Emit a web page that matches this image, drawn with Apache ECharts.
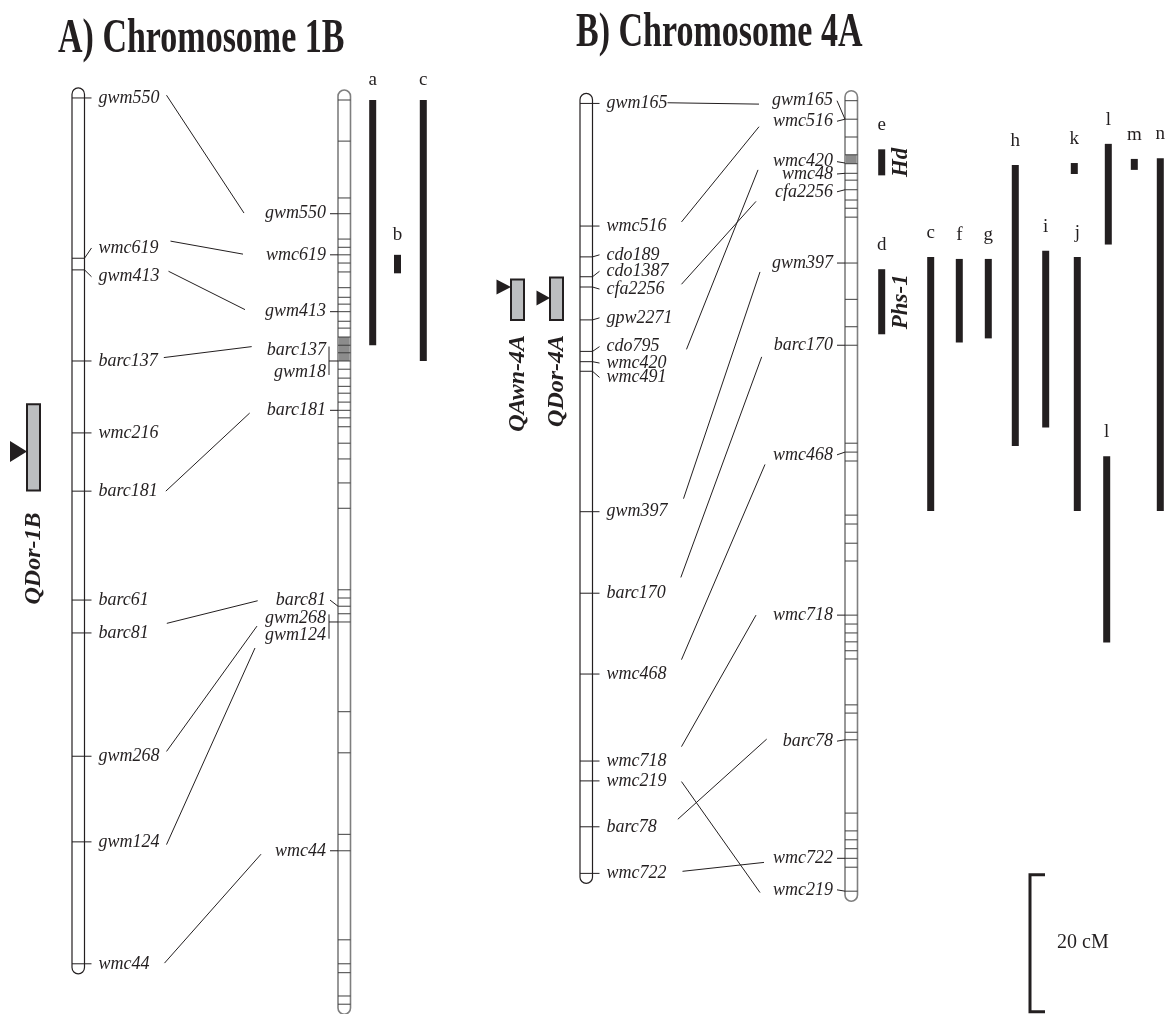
<!DOCTYPE html>
<html>
<head>
<meta charset="utf-8">
<script src="https://cdn.jsdelivr.net/npm/echarts@6.0.0/dist/echarts.min.js"></script>
<style>
  html, body { margin: 0; padding: 0; background: #fff; }
  #chart { width: 1171px; height: 1014px; }
</style>
</head>
<body>
<div id="chart"></div>
<script>
// ---------- data (all positions in cM) ----------
// Chromosome 1B, mapping population
const map1BNames = ['gwm550', 'wmc619', 'gwm413', 'barc137', 'wmc216', 'barc181', 'barc61', 'barc81', 'gwm268', 'gwm124', 'wmc44']
const map1BPos = [0.0, 23.4, 25.1, 38.4, 48.9, 57.4, 73.3, 78.1, 96.1, 108.6, 126.4]
const map1BLabelPos = [0.0, 21.9, 26.1, 38.4, 48.9, 57.4, 73.3, 78.1, 96.1, 108.6, 126.4]

// Chromosome 1B, consensus map
const cons1BTicks = [0.3, 6.3, 14.6, 16.9, 20.6, 21.8, 22.9, 24.1, 25.4, 27.7, 29.1, 30.1, 31.2, 32.6, 33.6,
  34.9, 36.1, 37.2, 38.4, 39.6, 40.9, 42.1, 43.1, 44.4, 45.6, 46.7, 48.0, 50.4, 52.7, 56.2, 59.9,
  71.8, 73.0, 74.2, 75.3, 76.5, 89.6, 95.6, 107.5, 109.9, 122.9, 126.4, 127.7, 131.1, 132.3]
const cons1BBand = [34.9, 38.4]
const cons1BNames = ['gwm550', 'wmc619', 'gwm413', 'barc137', 'gwm18', 'barc181', 'barc81', 'gwm268', 'gwm124', 'wmc44']
const cons1BPos = [16.9, 22.9, 31.2, 38.4, 38.4, 45.6, 74.2, 76.5, 76.5, 109.9]
const cons1BLabelPos = [16.9, 22.9, 31.2, 36.8, 40.0, 45.6, 73.3, 75.9, 78.5, 109.9]
const cons1BGroups = [['barc137', 'gwm18'], ['gwm268', 'gwm124']]

// links between the two 1B maps
const links1BNames = ['gwm550', 'wmc619', 'gwm413', 'barc137', 'barc181', 'barc81', 'gwm268', 'gwm124', 'wmc44']
const links1BFrom = [-0.4, 20.9, 25.3, 37.9, 57.4, 76.7, 95.4, 109.0, 126.3]
const links1BTo = [16.8, 22.8, 30.9, 36.3, 46.0, 73.4, 77.1, 80.3, 110.4]

// QTL intervals reported on 1B
const bars1BNames = ['a', 'b', 'c']
const bars1BTop = [0.3, 22.9, 0.3]
const bars1BBottom = [36.1, 25.6, 38.4]

// Chromosome 4A, mapping population
const map4ANames = ['gwm165', 'wmc516', 'cdo189', 'cdo1387', 'cfa2256', 'gpw2271', 'cdo795', 'wmc420', 'wmc491',
  'gwm397', 'barc170', 'wmc468', 'wmc718', 'wmc219', 'barc78', 'wmc722']
const map4APos = [0.8, 18.7, 23.2, 26.1, 27.6, 32.4, 37.0, 38.5, 39.9, 60.4, 72.3, 84.1, 96.8, 99.7, 106.4, 113.2]
const map4ALabelPos = [0.8, 18.7, 22.9, 25.3, 27.9, 32.1, 36.3, 38.7, 40.8, 60.4, 72.3, 84.1, 96.8, 99.7, 106.4, 113.2]

// Chromosome 4A, consensus map
const cons4ATicks = [0.4, 3.1, 5.7, 8.3, 9.6, 11.0, 12.0, 13.4, 14.9, 16.1, 17.4, 24.1, 29.4, 33.4, 36.1,
  50.4, 51.7, 53.0, 60.9, 62.2, 65.0, 67.6, 75.5, 76.8, 78.1, 79.4, 80.7, 81.9, 88.6, 89.8, 92.6, 93.7,
  104.4, 107.0, 108.3, 109.6, 111.0, 112.3, 115.8]
const cons4ABand = [8.3, 9.6]
const cons4ANames = ['gwm165', 'wmc516', 'wmc420', 'wmc48', 'cfa2256', 'gwm397', 'barc170', 'wmc468', 'wmc718', 'barc78', 'wmc722', 'wmc219']
const cons4APos = [3.1, 3.1, 9.5, 11.0, 13.4, 24.1, 36.1, 51.7, 75.5, 93.7, 111.0, 115.8]
const cons4ALabelPos = [0.4, 3.4, 9.3, 11.1, 13.7, 24.1, 36.1, 52.1, 75.5, 93.9, 111.0, 115.6]

// links between the two 4A maps
const links4ANames = ['gwm165', 'wmc516', 'cfa2256', 'wmc420', 'gwm397', 'barc170', 'wmc468', 'wmc718', 'barc78', 'wmc219', 'wmc722']
const links4AFrom = [0.7, 18.1, 27.2, 36.7, 58.5, 70.0, 82.0, 94.7, 105.3, 99.8, 112.9]
const links4ATo = [0.9, 4.2, 15.1, 10.5, 25.4, 37.8, 53.5, 75.5, 93.6, 116.0, 111.6]

// QTL intervals / genes reported on 4A
const bars4ANames = ['e', 'd', 'c', 'f', 'g', 'h', 'i', 'j', 'k', 'l', 'l', 'm', 'n']
const bars4ATop = [7.5, 25.0, 23.2, 23.5, 23.5, 9.8, 22.3, 23.2, 9.5, 6.7, 52.3, 8.9, 8.8]
const bars4ABottom = [11.3, 34.5, 60.3, 35.7, 35.1, 50.8, 48.1, 60.3, 11.1, 21.4, 79.5, 10.5, 60.3]
const bars4AGenes = ['Hd', 'Phs-1', '', '', '', '', '', '', '', '', '', '', '']

// QTL found in this study
const qtlNames = ['QDor-1B', 'QAwn-4A', 'QDor-4A']
const qtlTop = [44.7, 26.5, 26.2]
const qtlBottom = [57.3, 32.4, 32.4]
const qtlPeak = [51.6, 27.6, 29.2]

const titles = ['A) Chromosome 1B', 'B) Chromosome 4A']
const scaleBarLength = 20
const scaleBarLabel = '20 cM'

// ---------- layout (pixels) ----------
const layout = {
  chromW: 12.5,
  endPad: 10,
  mapTickExt: 7,
  mapLabelGap: 14,
  consTickExt: 8,
  consLabelGap: 12,
  bracketExt: 9,
  chromX: [72, 338, 580, 845],
  // space left between a label and its link line
  linkGapL1B: [7, 12, 9, 6, 8, 18, 7, 7, 15],
  linkGapR1B: [21, 23, 20, 15, 17, 18, 8, 10, 14],
  linkGapL4A: [0, 15, 17, 20, 16, 15, 15, 15, 21, 15, 16],
  linkGapR4A: [13, 14, 19, 15, 12, 12, 8, 17, 16, 13, 9],
  bars1BX: [372.7, 397.5, 423.3],
  bars4AX: [881.7, 881.7, 930.7, 959.3, 988.3, 1015.3, 1045.7, 1077.3, 1074.3, 1108.3, 1106.7, 1134.3, 1160.3],
  barW: 7,
  qtlX: [27, 511, 550],
  qtlW: 13,
  qtlArrow: [[17, 10.5], [14.5, 7.5], [13.5, 7.5]],
  qtlLabelGap: [22, 15, 15],
  scaleX: 1030,
  scaleTop: 113.4,
  titleX: [58, 576],
  titleY: [40, 34]
}

const INK = '#231f20'
const FONT_MARK = 'italic 18px "Liberation Serif"'
const W = layout.chromW

const measure = (function () {
  const ctx = document.createElement('canvas').getContext('2d')
  return function (s, f) { ctx.font = f; return ctx.measureText(s).width }
})()

const chroms = [
  { kind: 'map', names: map1BNames, pos: map1BPos, labelPos: map1BLabelPos, ticks: map1BPos },
  { kind: 'cons', names: cons1BNames, pos: cons1BPos, labelPos: cons1BLabelPos, ticks: cons1BTicks, band: cons1BBand, groups: cons1BGroups },
  { kind: 'map', names: map4ANames, pos: map4APos, labelPos: map4ALabelPos, ticks: map4APos },
  { kind: 'cons', names: cons4ANames, pos: cons4APos, labelPos: cons4ALabelPos, ticks: cons4ATicks, band: cons4ABand, groups: [] }
]
chroms.forEach((c, i) => { c.x = layout.chromX[i] })

const linkSets = [
  { left: 0, right: 1, names: links1BNames, from: links1BFrom, to: links1BTo, gapL: layout.linkGapL1B, gapR: layout.linkGapR1B },
  { left: 2, right: 3, names: links4ANames, from: links4AFrom, to: links4ATo, gapL: layout.linkGapL4A, gapR: layout.linkGapR4A }
]

const barSets = [
  { names: bars1BNames, top: bars1BTop, bottom: bars1BBottom, x: layout.bars1BX, genes: [], labelGap: 20 },
  { names: bars4ANames, top: bars4ATop, bottom: bars4ABottom, x: layout.bars4AX, genes: bars4AGenes, labelGap: 24 }
]

function yPix(api, v) { return api.coord([0, v])[1] }

const chart = echarts.init(document.getElementById('chart'))

const option = {
  animation: false,
  backgroundColor: '#fff',
  grid: { left: 0, right: 0, top: 0, bottom: 0 },
  xAxis: { type: 'value', min: 0, max: 1171, show: false },
  yAxis: { type: 'value', min: -14.3, max: -14.3 + 1014 / 6.85, inverse: true, show: false },
  graphic: titles.map((t, i) => ({
    type: 'text', x: layout.titleX[i], y: layout.titleY[i], scaleY: 1.4,
    style: { text: t, font: 'bold 34px "Liberation Serif"', fill: INK, verticalAlign: 'middle' }
  })),
  series: [
    // links between maps
    {
      type: 'custom', z: 1,
      data: linkSets.flatMap((s, si) => s.names.map((n, j) => [s.from[j], s.to[j], si, j])),
      renderItem(params, api) {
        const s = linkSets[api.value(2)]
        const j = api.value(3)
        const name = s.names[j]
        const cl = chroms[s.left], cr = chroms[s.right]
        const x1 = cl.x + W + layout.mapLabelGap + measure(name, FONT_MARK) + s.gapL[j]
        const x2 = cr.x - layout.consLabelGap - measure(name, FONT_MARK) - s.gapR[j]
        return {
          type: 'line',
          shape: { x1: x1, y1: yPix(api, api.value(0)), x2: x2, y2: yPix(api, api.value(1)) },
          style: { stroke: INK, lineWidth: 1 }
        }
      }
    },
    // chromosome outlines
    {
      type: 'custom', z: 2,
      data: chroms.map(c => [Math.min(...c.ticks), Math.max(...c.ticks)]),
      renderItem(params, api) {
        const c = chroms[params.dataIndex]
        const y0 = yPix(api, api.value(0)) - layout.endPad
        const y1 = yPix(api, api.value(1)) + layout.endPad
        return {
          type: 'rect',
          shape: { x: c.x, y: y0, width: W, height: y1 - y0, r: W / 2 },
          style: { fill: '#fff', stroke: c.kind === 'map' ? INK : '#7f7f7f', lineWidth: c.kind === 'map' ? 1.2 : 1.6 }
        }
      }
    },
    // shaded bands
    {
      type: 'custom', z: 3,
      data: chroms.map((c, i) => c.band ? [c.band[0], c.band[1], i] : null).filter(Boolean),
      renderItem(params, api) {
        const c = chroms[api.value(2)]
        const y0 = yPix(api, api.value(0)), y1 = yPix(api, api.value(1))
        return { type: 'rect', shape: { x: c.x + 0.8, y: y0, width: W - 1.6, height: y1 - y0 }, style: { fill: '#8c8c8c' } }
      }
    },
    // ticks across chromosomes
    {
      type: 'custom', z: 4,
      data: chroms.flatMap((c, i) => c.ticks.map(t => [i, t])),
      renderItem(params, api) {
        const c = chroms[api.value(0)]
        const y = yPix(api, api.value(1))
        return {
          type: 'line',
          shape: { x1: c.x, y1: y, x2: c.x + W, y2: y },
          style: { stroke: c.kind === 'map' ? INK : '#3f3f3f', lineWidth: 1 }
        }
      }
    },
    // marker labels
    {
      type: 'custom', z: 5,
      data: chroms.flatMap((c, i) => c.names.map((n, j) => [i, c.pos[j], c.labelPos[j], j])),
      renderItem(params, api) {
        const c = chroms[api.value(0)]
        const name = c.names[api.value(3)]
        const ty = yPix(api, api.value(1)), ly = yPix(api, api.value(2))
        const kids = []
        if (c.kind === 'map') {
          const xr = c.x + W
          kids.push({ type: 'polyline', shape: { points: [[xr, ty], [xr + layout.mapTickExt, ly]] }, style: { stroke: INK, lineWidth: 1, fill: 'none' } })
          kids.push({ type: 'text', style: { text: name, x: xr + layout.mapLabelGap, y: ly, font: FONT_MARK, fill: INK, align: 'left', verticalAlign: 'middle' } })
        } else {
          kids.push({ type: 'text', style: { text: name, x: c.x - layout.consLabelGap, y: ly, font: FONT_MARK, fill: INK, align: 'right', verticalAlign: 'middle' } })
          const grp = c.groups.find(g => g.indexOf(name) >= 0)
          if (!grp) {
            kids.push({ type: 'polyline', shape: { points: [[c.x - layout.consTickExt, ly], [c.x, ty]] }, style: { stroke: INK, lineWidth: 1, fill: 'none' } })
          } else if (grp[0] === name) {
            const ys = grp.map(n => yPix(api, c.labelPos[c.names.indexOf(n)]))
            const bx = c.x - layout.bracketExt
            kids.push({ type: 'line', shape: { x1: bx, y1: Math.min(...ys) - 3.5, x2: bx, y2: Math.max(...ys) + 3 }, style: { stroke: INK, lineWidth: 1 } })
            kids.push({ type: 'line', shape: { x1: bx, y1: ty, x2: c.x, y2: ty }, style: { stroke: INK, lineWidth: 1 } })
          }
        }
        return { type: 'group', children: kids }
      }
    },
    // reported intervals
    {
      type: 'custom', z: 5,
      data: barSets.flatMap((s, si) => s.names.map((n, j) => [s.top[j], s.bottom[j], si, j])),
      renderItem(params, api) {
        const s = barSets[api.value(2)]
        const j = api.value(3)
        const x = s.x[j]
        const y0 = yPix(api, api.value(0)), y1 = yPix(api, api.value(1))
        const kids = [
          { type: 'rect', shape: { x: x - layout.barW / 2, y: y0, width: layout.barW, height: y1 - y0 }, style: { fill: INK } },
          { type: 'text', style: { text: s.names[j], x: x, y: y0 - s.labelGap, font: '19px "Liberation Serif"', fill: INK, align: 'center', verticalAlign: 'middle' } }
        ]
        if (s.genes[j]) {
          kids.push({
            type: 'text', x: x + 19, y: (y0 + y1) / 2, rotation: Math.PI / 2,
            style: { text: s.genes[j], font: 'bold italic 23px "Liberation Serif"', fill: INK, align: 'center', verticalAlign: 'middle' }
          })
        }
        return { type: 'group', children: kids }
      }
    },
    // QTL boxes
    {
      type: 'custom', z: 5,
      data: qtlNames.map((n, i) => [qtlTop[i], qtlBottom[i], qtlPeak[i]]),
      renderItem(params, api) {
        const i = params.dataIndex
        const x = layout.qtlX[i], w = layout.qtlW
        const y0 = yPix(api, api.value(0)), y1 = yPix(api, api.value(1)), yp = yPix(api, api.value(2))
        const a = layout.qtlArrow[i]
        return {
          type: 'group',
          children: [
            { type: 'rect', shape: { x: x, y: y0, width: w, height: y1 - y0 }, style: { fill: '#bcbec0', stroke: INK, lineWidth: 2 } },
            { type: 'polygon', shape: { points: [[x - a[0], yp - a[1]], [x, yp], [x - a[0], yp + a[1]]] }, style: { fill: INK } },
            {
              type: 'text', x: x + w / 2, y: y1 + layout.qtlLabelGap[i], rotation: Math.PI / 2,
              style: { text: qtlNames[i], font: 'bold italic 24px "Liberation Serif"', fill: INK, align: 'right', verticalAlign: 'middle' }
            }
          ]
        }
      }
    },
    // scale bar
    {
      type: 'custom', z: 5,
      data: [[layout.scaleTop, layout.scaleTop + scaleBarLength]],
      renderItem(params, api) {
        const x = layout.scaleX
        const y0 = yPix(api, api.value(0)), y1 = yPix(api, api.value(1))
        return {
          type: 'group',
          children: [
            { type: 'polyline', shape: { points: [[x + 15, y0], [x, y0], [x, y1], [x + 15, y1]] }, style: { stroke: INK, lineWidth: 3, fill: 'none' } },
            { type: 'text', style: { text: scaleBarLabel, x: x + 27, y: (y0 + y1) / 2, font: '20px "Liberation Serif"', fill: INK, align: 'left', verticalAlign: 'middle' } }
          ]
        }
      }
    }
  ]
}

chart.setOption(option)
</script>
</body>
</html>
